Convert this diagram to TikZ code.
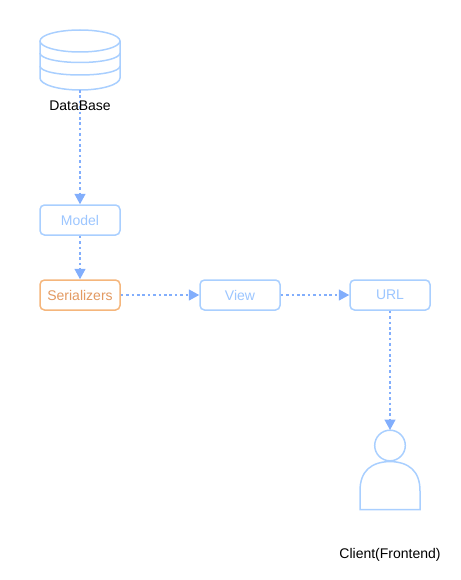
\documentclass[tikz,border=0pt]{standalone}
\usepackage{fontspec}
\setmainfont{Liberation Sans}
\usetikzlibrary{arrows.meta}
\definecolor{boxblue}{HTML}{A9CFFF}
\definecolor{textblue}{HTML}{9CC6FF}
\definecolor{linkblue}{HTML}{82AEFC}
\definecolor{boxorange}{HTML}{F5B67C}
\definecolor{textorange}{HTML}{E39A62}
\tikzset{
  x=1pt,y=-1pt,
  every node/.style={font=\fontsize{14}{16}\selectfont},
  flowbox/.style={draw=boxblue,line width=1.5pt,rounded corners=4.5pt,minimum width=80pt,minimum height=30pt,inner sep=0pt,text=textblue,fill=white},
  orangebox/.style={flowbox,draw=boxorange,text=textorange},
  shapeline/.style={draw=boxblue,line width=1.5pt},
  link/.style={draw=linkblue,line width=1.5pt,dash pattern=on 2.6pt off 2.8pt,-{Triangle[length=10.5pt,width=11pt,fill=linkblue]}},
  caption/.style={text=black,inner sep=0pt}
}
\begin{document}
\begin{tikzpicture}
\useasboundingbox (0,0) rectangle (460,580);
% database
\draw[shapeline] (40,41) arc[x radius=40,y radius=-11,start angle=180,end angle=-180];
\draw[shapeline] (40,41) -- (40,78) .. controls (40,84.5) and (58,90) .. (80,90) .. controls (102,90) and (120,84.5) .. (120,78) -- (120,41);
\draw[shapeline] (40,53) .. controls (40,58.5) and (58,62.5) .. (80,62.5) .. controls (102,62.5) and (120,58.5) .. (120,53);
\draw[shapeline] (40,66) .. controls (40,71.5) and (58,75) .. (80,75) .. controls (102,75) and (120,71.5) .. (120,66);
\coordinate (dbbottom) at (80,90);
% boxes
\node[flowbox] (model) at (80,220) {Model};
\node[orangebox] (ser) at (80,295) {Serializers};
\node[flowbox] (view) at (240,295) {View};
\node[flowbox] (url) at (390,295) {URL};
% person
\draw[shapeline] (390,445.5) circle[radius=15.3];
\draw[shapeline] (360,509.5) -- (360,491) .. controls (360,471) and (371,462) .. (390,461.5) .. controls (409,462) and (420,471) .. (420,491) -- (420,509.5) -- cycle;
\coordinate (persontop) at (390,430);
% links
\draw[link] (dbbottom) -- (model.north);
\draw[link] (model) -- (ser);
\draw[link] (ser) -- (view);
\draw[link] (view) -- (url);
\draw[link] (url) -- (persontop);
% labels
\node[caption] (dblabel) at (80,105.5) {DataBase};
\node[caption] (clientlabel) at (390,555) {Client(Frontend)};
\end{tikzpicture}
\end{document}
